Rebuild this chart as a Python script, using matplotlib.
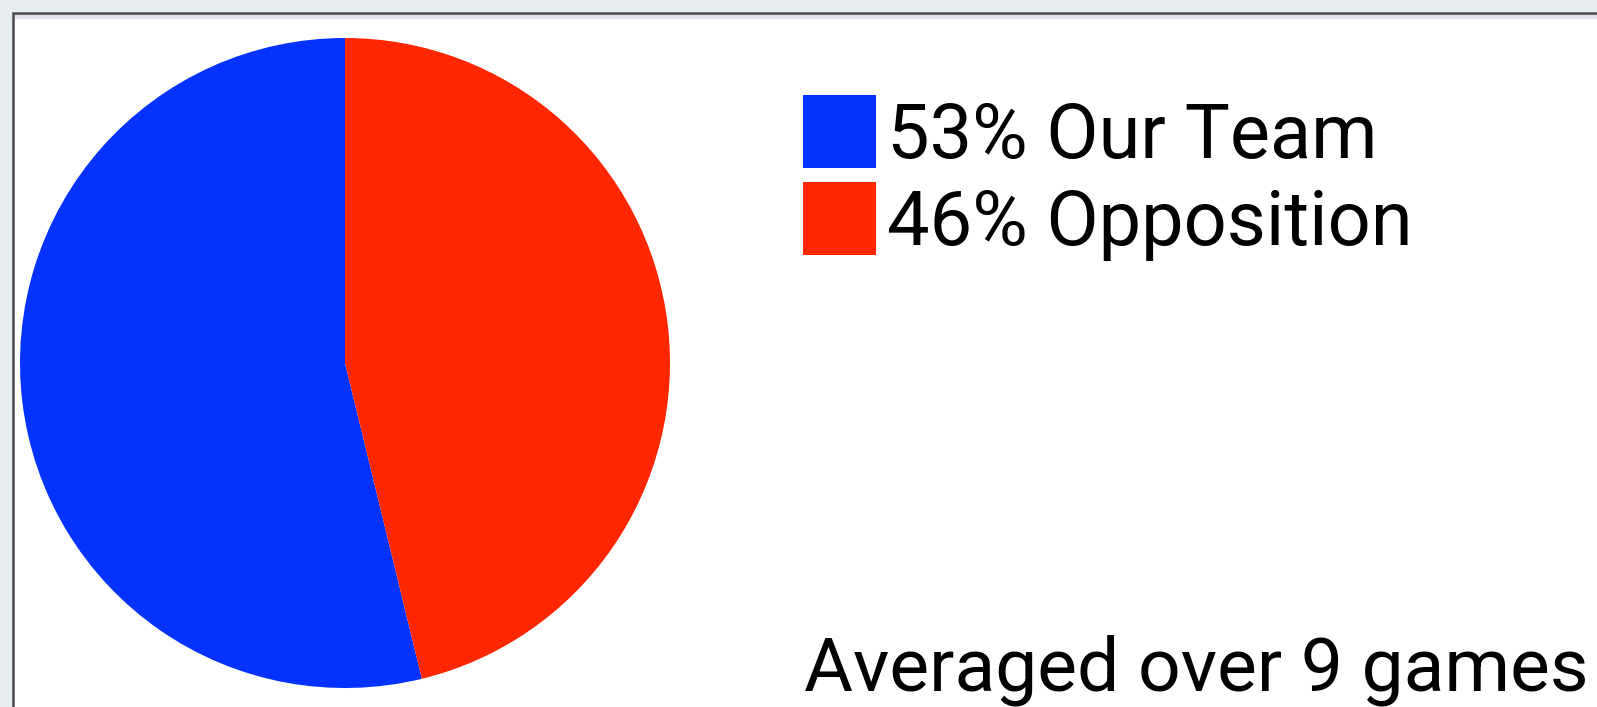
import matplotlib.pyplot as plt
from matplotlib.patches import Rectangle

# Values
TEAMS = ['Our Team', 'Opposition']
SHARES = [53.8, 46.2]
COLORS = ['#0433ff', '#ff2600']
NOTE = 'Averaged over 9 games'

W, H = 1597, 707
plt.rcParams['font.family'] = ['Roboto', 'DejaVu Sans']

fig = plt.figure(figsize=(W / 100, H / 100), dpi=100)
fig.patch.set_facecolor('#e7edf1')


def fx(px):
    return px / W


def fy(py):
    return 1 - py / H


# white card with dark top/left border
fig.patches.append(Rectangle((fx(13), 0), 1, fy(12), transform=fig.transFigure,
                             facecolor='white', edgecolor='none', zorder=0))
fig.patches.append(Rectangle((fx(14), fy(19)), 1, fy(14) - fy(19), transform=fig.transFigure,
                             facecolor='#e4e2ea', edgecolor='none', zorder=0))
fig.add_artist(plt.Line2D([fx(13), fx(13), 1], [0, fy(12.5), fy(12.5)],
                          color='#4a4a4f', lw=1.8, solid_joinstyle='miter'))

# pie: centre (345, 363), radius 325 px
cx, cy, r = 345, 363, 325
ax = fig.add_axes([fx(cx - r), fy(cy + r), fx(2 * r), (2 * r) / H], zorder=3)
ax.patch.set_visible(False)
ax.pie(SHARES, colors=COLORS, startangle=90, counterclock=True,
       wedgeprops=dict(linewidth=0))
ax.set_xlim(-1, 1)
ax.set_ylim(-1, 1)
ax.set_aspect('auto')
ax.axis('off')

# legend
box_x, box_y, box_s, step = 803, 95, 73, 87
for i, (team, share, col) in enumerate(zip(TEAMS, SHARES, COLORS)):
    y0 = box_y + i * step
    fig.patches.append(Rectangle((fx(box_x), fy(y0 + box_s)), fx(box_s), box_s / H,
                                 transform=fig.transFigure, facecolor=col,
                                 edgecolor='none', zorder=2))
    fig.text(fx(887), fy(y0 + 63), f'{int(share)}% {team}', fontsize=54.5,
             color='black', va='baseline', ha='left')

fig.text(fx(804), fy(690), NOTE, fontsize=54, color='black',
         va='baseline', ha='left')

fig.savefig('out.png', dpi=100, facecolor=fig.get_facecolor())
